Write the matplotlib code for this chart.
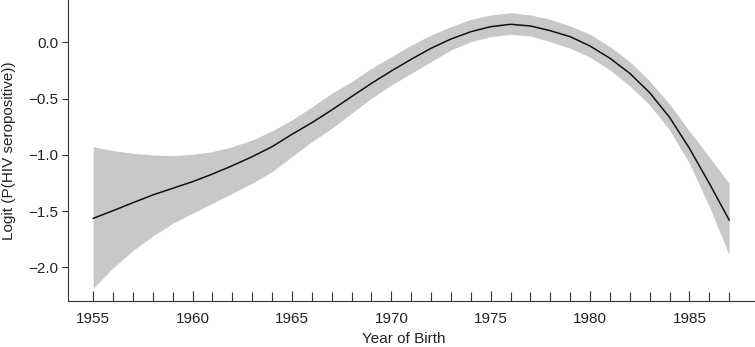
import matplotlib
matplotlib.use("Agg")
import matplotlib.pyplot as plt

plt.rcParams['font.family'] = ['Liberation Sans', 'DejaVu Sans']

years = [1955, 1956, 1957, 1958, 1959, 1960, 1961, 1962, 1963, 1964, 1965,
         1966, 1967, 1968, 1969, 1970, 1971, 1972, 1973, 1974, 1975, 1976,
         1977, 1978, 1979, 1980, 1981, 1982, 1983, 1984, 1985, 1986, 1987]
logit = [-1.565, -1.497, -1.426, -1.357, -1.298, -1.239, -1.171, -1.097, -1.017, -0.928, -0.818,
         -0.715, -0.602, -0.483, -0.365, -0.255, -0.151, -0.053, 0.029, 0.094, 0.139, 0.160,
         0.145, 0.103, 0.050, -0.033, -0.142, -0.276, -0.448, -0.667, -0.943, -1.254, -1.580]
upper = [-0.928, -0.963, -0.987, -1.002, -1.008, -0.996, -0.972, -0.928, -0.868, -0.788, -0.690,
         -0.575, -0.453, -0.350, -0.231, -0.128, -0.024, 0.065, 0.139, 0.204, 0.243, 0.263,
         0.243, 0.204, 0.145, 0.071, -0.039, -0.172, -0.345, -0.550, -0.790, -1.020, -1.254]
lower = [-2.187, -2.005, -1.850, -1.722, -1.609, -1.520, -1.431, -1.342, -1.253, -1.150, -1.017,
         -0.884, -0.765, -0.631, -0.498, -0.380, -0.276, -0.172, -0.068, 0.005, 0.050, 0.071,
         0.056, 0.005, -0.053, -0.133, -0.246, -0.388, -0.557, -0.780, -1.076, -1.461, -1.890]

fig = plt.figure(figsize=(7.55, 3.47), dpi=100)
ax = fig.add_axes([68/755, 46/347, 1 - 68/755, 1 - 46/347])

ax.fill_between(years, lower, upper, color='#c8c8c8', linewidth=0)
ax.plot(years, logit, color='#111111', linewidth=1.1)

ax.set_xlim(1953.73, 1988.3)
ax.set_ylim(-2.30, 0.376)

ax.set_xticks(list(range(1955, 1988)), minor=True)
ax.set_xticks([1955, 1960, 1965, 1970, 1975, 1980, 1985])
ax.set_yticks([-2.0, -1.5, -1.0, -0.5, 0.0])
ax.set_yticklabels(['\u22122.0', '\u22121.5', '\u22121.0', '\u22120.5', '0.0'])

for s in ['top', 'right']:
    ax.spines[s].set_visible(False)
for s in ['left', 'bottom']:
    ax.spines[s].set_color('#333333')
    ax.spines[s].set_linewidth(0.8)

ax.tick_params(axis='x', which='major', direction='in', length=7.5, width=0.8,
               color='#333333', labelsize=11, pad=8, labelcolor='#222222')
ax.tick_params(axis='x', which='minor', direction='in', length=6.5, width=0.8,
               color='#333333')
ax.tick_params(axis='y', which='major', direction='out', length=4, width=0.8,
               color='#333333', labelsize=11, pad=3, labelcolor='#222222')

ax.set_xlabel('Year of Birth', fontsize=11, color='#222222', va='baseline')
ax.xaxis.set_label_coords((404 - 68) / 687, -42 / 301)
ax.set_ylabel('Logit (P(HIV seropositive))', fontsize=11, color='#222222', va='center')
ax.yaxis.set_label_coords(-59 / 687, (301 - 151) / 301)

fig.savefig('out.png', dpi=100)
